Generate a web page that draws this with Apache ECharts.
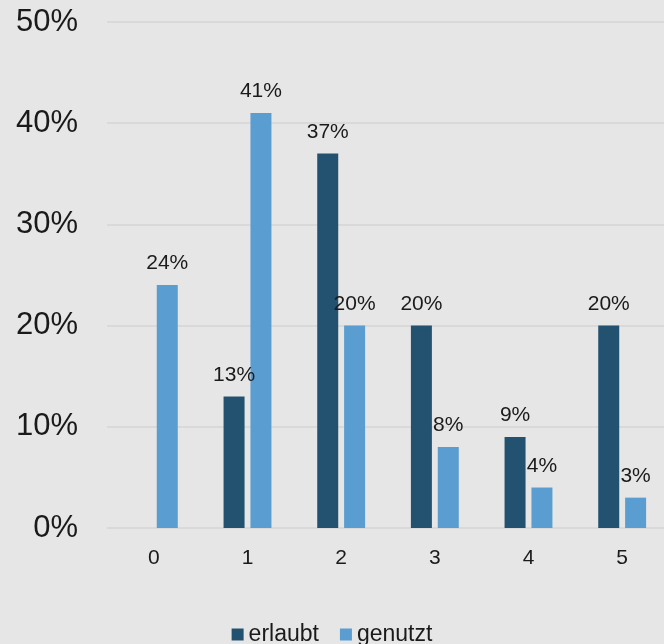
<!DOCTYPE html>
<html>
<head>
<meta charset="utf-8">
<script src="https://cdn.jsdelivr.net/npm/echarts@6/dist/echarts.min.js"></script>
<style>
  html, body { margin: 0; padding: 0; background: #e6e6e6; }
  #chart { width: 664px; height: 644px; }
</style>
</head>
<body>
<div id="chart"></div>
<script>
// Anzahl (0–5) und Anteile in Prozent
const categories = ['0', '1', '2', '3', '4', '5'];
const erlaubt = [null, 13, 37, 20, 9, 20];
const genutzt = [24, 41, 20, 8, 4, 3];
const yTicks = [0, 10, 20, 30, 40, 50];

const textColor = '#1a1a1a';
const font = '"Liberation Sans", Arial, sans-serif';

const chart = echarts.init(document.getElementById('chart'), null, { renderer: 'canvas' });

const barLabel = {
  show: true,
  position: 'top',
  distance: 11,
  color: textColor,
  fontSize: 21,
  fontFamily: font,
  formatter: p => p.value + '%'
};

chart.setOption({
  backgroundColor: '#e6e6e6',
  animation: false,
  grid: { left: 107, top: 22, width: 562, height: 506, outerBoundsMode: 'none' },
  legend: {
    top: 618,
    left: 'center',
    itemWidth: 12,
    itemHeight: 12,
    itemGap: 21,
    icon: 'rect',
    textStyle: { color: textColor, fontSize: 23, fontFamily: font, padding: [0, 0, 0, 0] },
    data: ['erlaubt', 'genutzt']
  },
  xAxis: {
    type: 'category',
    data: categories,
    axisLine: { show: false },
    axisTick: { show: false },
    axisLabel: { color: textColor, fontSize: 21, fontFamily: font, margin: 20 }
  },
  yAxis: {
    type: 'value',
    min: yTicks[0],
    max: yTicks[yTicks.length - 1],
    interval: yTicks[1] - yTicks[0],
    axisLine: { show: false },
    axisTick: { show: false },
    axisLabel: {
      color: textColor, fontSize: 31, fontFamily: font, margin: 29,
      formatter: '{value}%'
    },
    splitLine: { lineStyle: { color: '#d9d9d9', width: 2 } }
  },
  series: [
    {
      name: 'erlaubt',
      type: 'bar',
      data: erlaubt,
      barWidth: 21,
      barGap: '28%',
      itemStyle: { color: '#225270' },
      label: barLabel
    },
    {
      name: 'genutzt',
      type: 'bar',
      data: genutzt,
      barWidth: 21,
      itemStyle: { color: '#5a9dd0' },
      label: barLabel
    }
  ]
});
</script>
</body>
</html>
